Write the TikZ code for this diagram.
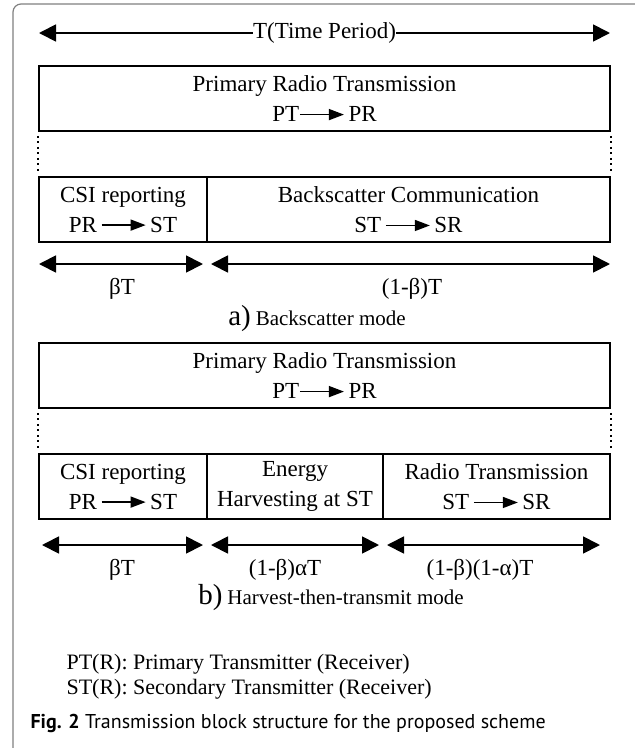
\documentclass[tikz,border=0pt]{standalone}
\usepackage{fontspec}
\setmainfont{Liberation Serif}
\newfontfamily\capfont{PT Sans}
\usetikzlibrary{arrows.meta}

% small arrow used inside the block texts
\newcommand{\sendto}{\tikz[baseline=0pt]\draw[line width=1.5pt,-{Triangle[length=15pt,width=11pt]}] (0pt,0.3em) -- (44pt,0.3em);}

\begin{document}
\begin{tikzpicture}[x=1pt, y=-1pt,
    blk/.style={draw, line width=1.8pt, minimum height=65pt, inner sep=0pt, align=center, font=\fontsize{23}{30}\selectfont},
    span/.style={line width=1.8pt, {Triangle[length=17pt,width=17pt]}-{Triangle[length=17pt,width=17pt]}},
    lbl/.style={font=\fontsize{23}{26}\selectfont},
    gap/.style={line width=1.8pt, dash pattern=on 1.8pt off 3.7pt},
    legend/.style={anchor=west, font=\fontsize{22}{24}\selectfont}]
    \useasboundingbox (0,0) rectangle (635,748);

    % outer frame
    \draw[gray, line width=1.2pt, rounded corners=8pt] (13,748) -- (13,4) -- (643,4) -- (643,30);

    % total period
    \coordinate (t0) at (39,33);
    \coordinate (t1) at (610,33);
    \draw[span] (t0) -- (t1);
    \node[lbl, fill=white, inner sep=0pt] (tp) at (324.5,33) {T(Time Period)};

    % a) backscatter mode
    \node[blk, minimum width=571pt] (prima) at (324.5,98.5) {Primary Radio Transmission\\PT\sendto\,PR};
    \node[blk, minimum width=168pt] (csia) at (123,209.5) {CSI reporting\\PR\,\sendto\,ST};
    \node[blk, minimum width=403pt] (bsc) at (408.5,209.5) {Backscatter Communication\\ST\,\sendto\,SR};
    \draw[gap] ([yshift=-4pt]prima.south west) -- ([yshift=4pt]csia.north west);
    \draw[gap] ([yshift=-4pt]prima.south east) -- ([yshift=4pt]bsc.north east);

    \coordinate (a0) at (39,264);
    \coordinate (a1) at (203,264);
    \coordinate (a2) at (211,264);
    \coordinate (a3) at (610,264);
    \draw[span] (a0) -- (a1);
    \draw[span] (a2) -- (a3);
    \node[lbl] (bta) at (122,289) {βT};
    \node[lbl] (rest) at (412,289) {(1-β)T};
    \node (capa) at (317,319) {{\fontsize{29}{30}\selectfont a)}\ \ {\fontsize{21}{24}\selectfont Backscatter mode}};

    % b) harvest-then-transmit mode
    \node[blk, minimum width=571pt] (primb) at (324.5,375.5) {Primary Radio Transmission\\PT\sendto\,PR};
    \node[blk, minimum width=168pt] (csib) at (123,486.5) {CSI reporting\\PR\,\sendto\,ST};
    \node[blk, minimum width=176pt] (harv) at (295,486.5) {Energy\\Harvesting at ST};
    \node[blk, minimum width=227pt] (radio) at (496.5,486.5) {Radio Transmission\\ST\,\sendto\,SR};
    \draw[gap] ([yshift=-4pt]primb.south west) -- ([yshift=4pt]csib.north west);
    \draw[gap] ([yshift=-4pt]primb.south east) -- ([yshift=4pt]radio.north east);

    \coordinate (b0) at (42,545);
    \coordinate (b1) at (203,545);
    \coordinate (b2) at (211,545);
    \coordinate (b3) at (379,545);
    \coordinate (b4) at (387,545);
    \coordinate (b5) at (600,545);
    \draw[span] (b0) -- (b1);
    \draw[span] (b2) -- (b3);
    \draw[span] (b4) -- (b5);
    \node[lbl] (btb) at (122,570) {βT};
    \node[lbl] (eh) at (285,570) {(1-β)αT};
    \node[lbl] (rt) at (480,570) {(1-β)(1-α)T};
    \node (capb) at (331,598) {{\fontsize{29}{30}\selectfont b)}\ \ {\fontsize{21}{24}\selectfont Harvest-then-transmit mode}};

    % legend and caption
    \node[legend] (lega) at (63,664) {PT(R): Primary Transmitter (Receiver)};
    \node[legend] (legb) at (63,689) {ST(R): Secondary Transmitter (Receiver)};
    \node[anchor=west, font=\capfont\fontsize{20}{22}\selectfont] (fig) at (27,723) {\textbf{Fig. 2} Transmission block structure for the proposed scheme};
\end{tikzpicture}
\end{document}
